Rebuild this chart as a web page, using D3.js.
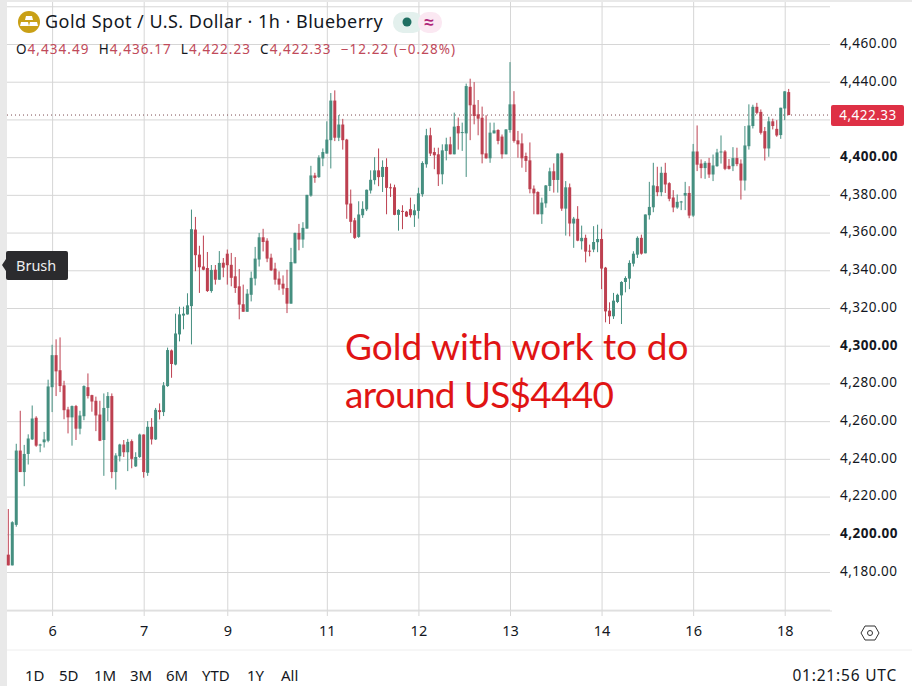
<!DOCTYPE html>
<meta charset="utf-8">
<title>Gold Spot / U.S. Dollar 1h</title>
<style>
body { margin: 0; background: #fff; }
text { font-family: "Noto Sans", sans-serif; fill: #131722; }
</style>
<div id="chart"></div>
<script src="https://d3js.org/d3.v7.min.js"></script>
<script>
// hourly candles
var opens = [
4189.2,4183.5,4205,4244.4,4233,4242.6,4250.3,4261.8,4247.2,4248.8,
4249.6,4278,4295,4287,4279,4266.2,4262,4268,4256,4262.6,
4278,4273.8,4270.8,4263.5,4250,4267,4273.3,4233,4241.4,4247.6,
4243.5,4249.4,4236,4241,4252.9,4232.6,4257,4250.3,4265.8,4264.8,
4278.6,4297.5,4290,4306,4316,4316.6,4321,4361.6,4348.3,4342,
4341.2,4329,4340.3,4335,4344,4348.8,4342.9,4336.8,4331.5,4322,
4318,4327,4335.6,4345.7,4357.5,4355.7,4346.7,4340.9,4335.6,4332.9,
4330.6,4322.3,4343.7,4359.8,4356.3,4362.1,4379.6,4390.3,4389.4,4399.3,
4401.9,4409,4430,4410.3,4417.3,4409.3,4375.4,4366.5,4357.7,4369.2,
4372.3,4382.3,4387.8,4393,4389.5,4394.8,4384,4384,4369.4,4371.5,
4371.1,4372.4,4369.2,4371.5,4380.3,4396.2,4411.6,4402.7,4401.5,4390.9,
4403.3,4406.8,4401.5,4416.5,4412.8,4412.6,4437.3,4427.8,4422.7,4420.9,
4402,4399.4,4412.6,4414.4,4410.9,4401.5,4414.4,4428,4408.9,4407.3,
4400.6,4398.3,4383.3,4381.5,4369.7,4375.5,4384.7,4392.5,4387.9,4402,
4372.7,4384,4364.8,4367.3,4355.4,4357.2,4350.4,4351,4354.9,4356.6,
4341.4,4318.6,4315.6,4323.2,4326.7,4333.8,4335.6,4343.5,4348.3,4357.2,
4349,4369.2,4373.4,4384.6,4381.4,4391.7,4386.2,4378.6,4373.3,4376.1,
4379.6,4381,4369,4403,4396.6,4394.2,4397,4390.8,4395.2,4402.5,
4403,4395.4,4395.2,4399.5,4396.6,4387.6,4405.8,4416.5,4426.7,4424,
4413.8,4404.6,4419,4415,4411.7,4425.8,4434.49];
var highs = [
4213.4,4206.9,4248,4265.5,4247.4,4253,4268.3,4262.6,4248,4254.3,
4282,4300.5,4303.4,4304.4,4281.4,4267.6,4268.3,4268.6,4265.5,4279,
4285.3,4274,4273,4270.8,4274.7,4275.4,4274.7,4243,4248,4250,
4250.6,4250.3,4243.5,4253.4,4253,4260,4261.6,4267,4269.4,4280.7,
4299,4298,4317,4320.7,4320.7,4327.8,4372.2,4368.3,4353,4358.4,
4349.7,4342.8,4342.8,4350.2,4346.5,4351,4349.2,4347,4340.7,4332.4,
4330,4339.3,4352.4,4359.8,4362,4357,4348.8,4344,4339.4,4337.3,
4340.3,4351.9,4360,4364.6,4365.5,4380,4395.4,4391.7,4401,4404.6,
4419,4434,4435.4,4422.3,4420.3,4409.7,4382.8,4367.8,4376.6,4376.6,
4382.8,4393,4400,4404.6,4398.3,4399.4,4386,4385.4,4372.4,4374.5,
4371.5,4378.5,4375,4383.8,4397.8,4415,4415.6,4405,4405,4406.8,
4410.3,4410.8,4423.6,4421,4418.3,4439,4441.6,4439.8,4430.3,4426.8,
4422.2,4418.3,4418.3,4414.8,4412,4414.8,4450.4,4435,4413.9,4412.6,
4402.4,4407.8,4385,4381.9,4378.5,4385.2,4394.4,4396.7,4402,4402.4,
4387.3,4386,4368.3,4374,4363.7,4358.9,4353.6,4363.4,4364.2,4362,
4341.8,4323,4328,4327.6,4334.2,4336.8,4345.3,4350.1,4358,4358.9,
4369.6,4386.9,4397,4394.9,4394.9,4397,4386.7,4382.5,4380.2,4376.8,
4386.9,4384.6,4407,4416.8,4398.8,4397.9,4399.6,4401.4,4404.4,4411.5,
4403.7,4399,4405.3,4405,4398.8,4416.5,4428,4427.8,4428.8,4425.3,
4416,4421.4,4420.4,4419.6,4426.2,4435,4436.17];
var lows = [
4183.5,4183.5,4204,4233,4225.5,4237,4250,4246.4,4243.5,4246,
4248.8,4264.8,4273.3,4275.4,4261,4253.5,4247,4250,4253,4260.5,
4272,4265,4254.7,4249.4,4231,4260,4229.7,4223.7,4238.6,4241,
4233.5,4235,4235.7,4240.5,4230,4231,4247.6,4250,4260.9,4262.7,
4278.2,4283,4289.6,4302.3,4308.7,4316.5,4300.7,4339.5,4328,4340,
4328.5,4328.1,4332.4,4335,4336.3,4332.4,4331.5,4328,4314,4318,
4318,4323.5,4332,4342,4350,4344.3,4339.6,4332.4,4329.4,4327,
4317.3,4322.3,4343.7,4350.6,4351.9,4362.1,4379,4386.4,4389,4395.2,
4401.9,4394,4408.5,4408.5,4404,4367.3,4359.8,4356.6,4357.2,4367.8,
4371.4,4380.7,4385.5,4384.6,4381.5,4369.7,4378.9,4369.2,4361,4361.8,
4368.3,4368,4363,4367.4,4379,4394.4,4400.6,4393.6,4384.7,4385.6,
4398.3,4401.5,4401.5,4404,4403.3,4389.5,4409,4417.4,4411.6,4396.7,
4399.2,4397,4412.6,4406.8,4399.2,4401.5,4413,4407.7,4399.7,4394.4,
4392.1,4380.8,4369.7,4369.7,4364.6,4373.2,4382,4381.2,4381.2,4371.5,
4358.4,4358,4351.9,4355.4,4351,4344.2,4347.4,4349.6,4349.6,4330,
4312.4,4311.5,4314.2,4322.6,4311.5,4328.3,4330,4342,4346.5,4348.3,
4349,4366.9,4370.8,4379.3,4379.3,4381,4376.6,4370.8,4372.6,4371.9,
4371.9,4367.6,4368.3,4392.6,4388.8,4388.5,4389,4387.3,4394.9,4396.6,
4393.1,4393.4,4392.6,4395.2,4377.5,4382.3,4404,4415.2,4422.7,4412,
4398.2,4400.2,4414.7,4410.8,4409.7,4419.6,4422.23];
var closes = [
4183.5,4206.4,4244.4,4233,4242.6,4250.8,4261.4,4247,4247.6,4250.3,
4278.4,4295,4286.4,4278.6,4265.8,4262,4268,4256,4263,4278.6,
4273.3,4270.4,4263,4249.6,4267,4273.3,4233,4241.8,4247.6,4243.5,
4249,4240,4241,4252.9,4233,4257,4250.3,4266,4264.8,4279,
4297.7,4290.3,4306.5,4316.6,4317,4321.4,4361.8,4348,4341.6,4340.3,
4329,4340.2,4335,4343.9,4341.4,4342.7,4336,4330.6,4321.8,4318,
4327.6,4336,4346.2,4357.5,4355,4346.2,4340,4335,4332.4,4330.3,
4322.3,4344.4,4359.8,4356.3,4362.5,4380,4390.3,4389,4399.8,4402.7,
4409.3,4430,4410.3,4417.3,4409,4374.9,4365.7,4357.2,4369.6,4372.6,
4382.7,4388,4393,4389.4,4394.8,4383.7,4383.7,4369.4,4372,4371,
4368.5,4369.2,4371.8,4380.8,4396.9,4411.6,4401.9,4401,4390.9,4403.6,
4406.8,4401.5,4416.2,4412.6,4413.3,4437.7,4427.5,4421.8,4420.4,4401.5,
4399.4,4413,4414.2,4408.6,4401.5,4414.7,4428,4408.6,4406.8,4399.4,
4398,4383,4380.8,4369.7,4375.9,4385,4392.5,4387.9,4401.9,4372.7,
4384,4364.8,4367.4,4355.7,4357.2,4349.9,4350.1,4355,4356.6,4340.9,
4318.2,4315.6,4323.9,4327,4333.8,4335.9,4343.9,4348.8,4357.2,4348.8,
4369.6,4373.6,4385,4381.4,4391.7,4385.5,4377.9,4373.3,4376.3,4376.5,
4381,4369,4403,4396,4394.2,4397,4390.8,4395.6,4402.5,4403,
4393.8,4393.8,4399.5,4396.3,4387.6,4406.2,4416.8,4426.7,4423.5,4412.9,
4404.6,4419,4416.5,4411.5,4426.2,4434.9,4422.33];

var priceTicks = [4160,4180,4200,4220,4240,4260,4280,4300,4320,4340,4360,4380,4400,4420,4440,4460,4480];
var hiddenPrices = [4160,4420,4480];
var dayIndex = [11,34,55,80,103,126,149,172,195];
var dayLabels = ["6","7","9","11","12","13","14","16","18"];
var rangeLabels = ["1D","5D","1M","3M","6M","YTD","1Y","All"];
var rangeX = [25,59,94,130,166,202,247,281];
var lastPrice = 4422.33;
var ohlcNames = ["O","H","L","C"];
var ohlcValues = ["4,434.49","4,436.17","4,422.23","4,422.33"];
var changeText = ["−12.22","(−0.28%)"];

var UP = "#458f80", DOWN = "#bd4050", GRID = "#d6d6d6";

var svg = d3.select("#chart").append("svg")
    .attr("width", 912).attr("height", 686).style("display", "block");

// light strips left and top of the screenshot
svg.append("rect").attr("width", 7).attr("height", 686).attr("fill", "#e9e9e9");
svg.append("rect").attr("width", 912).attr("height", 2).attr("fill", "#e9e9e9");

var x = d3.scaleLinear().domain([0, opens.length - 1]).range([8.3, 788.7]);
var y = d3.scaleLinear().domain([4180, 4460]).range([572, 44]);

// price axis, the ticks double as the horizontal grid
var yAxis = svg.append("g")
    .attr("transform", "translate(830,0)")
    .call(d3.axisRight(y).tickValues(priceTicks).tickSize(-823).tickPadding(10)
      .tickFormat(function(d) { return hiddenPrices.indexOf(d) >= 0 ? "" : d3.format(",.2f")(d); }));
yAxis.select(".domain").remove();
yAxis.selectAll("line").attr("stroke", GRID);
yAxis.selectAll("text")
    .attr("y", -1)
    .style("font-family", '"Noto Sans", sans-serif')
    .style("font-size", "13.5px")
    .style("letter-spacing", "0.5px")
    .style("font-weight", function(d) { return d % 100 == 0 ? "bold" : "normal"; })
    .attr("fill", "#131722");

// time axis, same thing for the verticals
var xAxis = svg.append("g")
    .attr("transform", "translate(0,611)")
    .call(d3.axisBottom(x).tickValues(dayIndex).tickSize(-609).tickSizeOuter(0)
      .tickFormat(function(d, i) { return dayLabels[i]; }));
xAxis.select(".domain").remove();
xAxis.selectAll("line").attr("stroke", GRID).attr("y2", -609);
xAxis.selectAll(".tick").append("line").attr("y1", 0).attr("y2", 5).attr("stroke", GRID);
xAxis.selectAll("text")
    .attr("y", 15).attr("dy", "0.71em")
    .style("font-family", '"Noto Sans", sans-serif')
    .style("font-size", "14.5px")
    .attr("fill", "#131722");

svg.append("line").attr("x1", 7).attr("x2", 832).attr("y1", 611).attr("y2", 611).attr("stroke", "#dcdcdc");
svg.append("line").attr("x1", 7).attr("x2", 912).attr("y1", 650).attr("y2", 650).attr("stroke", "#eeeeee");

// last price dotted line
svg.append("line")
    .attr("x1", 7).attr("x2", 830).attr("y1", y(lastPrice)).attr("y2", y(lastPrice))
    .attr("stroke", "#7a4a50").attr("stroke-dasharray", "1 3");

// candles
var idx = d3.range(opens.length);
var color = function(i) { return closes[i] >= opens[i] ? UP : DOWN; };

svg.selectAll(".wick").data(idx).enter().append("line")
    .attr("class", "wick")
    .attr("x1", function(i) { return x(i); })
    .attr("x2", function(i) { return x(i); })
    .attr("y1", function(i) { return y(highs[i]); })
    .attr("y2", function(i) { return y(lows[i]); })
    .attr("stroke", color);

svg.selectAll(".body").data(idx).enter().append("rect")
    .attr("class", "body")
    .attr("x", function(i) { return x(i) - 1.5; })
    .attr("width", 3)
    .attr("y", function(i) { return y(Math.max(opens[i], closes[i])); })
    .attr("height", function(i) { return Math.max(1, Math.abs(y(opens[i]) - y(closes[i]))); })
    .attr("fill", color);

// price label
svg.append("rect").attr("x", 831).attr("y", 105).attr("width", 73).attr("height", 21).attr("rx", 2).attr("fill", "#de3045");
svg.append("text").attr("x", 868).attr("y", 120).attr("text-anchor", "middle")
    .style("fill", "#fff").style("font-size", "13.5px").style("letter-spacing", "0.5px")
    .text(d3.format(",.2f")(lastPrice));

// header
var icon = svg.append("g").attr("transform", "translate(29,22)");
icon.append("circle").attr("r", 11).attr("fill", "#c9a016");
icon.append("path").attr("d", "M-3,-6H3L4,-2H-4ZM-8,0H-1L0,4H-9ZM1,0H8L9,4H0Z").attr("fill", "#fff");

svg.append("text").attr("x", 45).attr("y", 28).style("font-size", "18px").style("letter-spacing", "0.47px")
    .text("Gold Spot / U.S. Dollar · 1h · Blueberry");

svg.append("rect").attr("x", 393).attr("y", 12).attr("width", 30).attr("height", 21).attr("rx", 10).attr("fill", "#e3f0ed");
svg.append("rect").attr("x", 418).attr("y", 12).attr("width", 24).attr("height", 21).attr("rx", 10).attr("fill", "#fbe8f2");
svg.append("circle").attr("cx", 407).attr("cy", 22).attr("r", 4.5).attr("fill", "#1f6f62");
svg.append("text").attr("x", 429).attr("y", 28).attr("text-anchor", "middle")
    .style("font-size", "17px").style("font-weight", "bold").style("fill", "#b0267a").text("≈");

var ohlcRow = svg.append("text").attr("x", 16).attr("y", 54).style("font-size", "13.5px").style("letter-spacing", "1.05px");
ohlcNames.forEach(function(name, i) {
  ohlcRow.append("tspan").style("fill", "#131722").text(name);
  ohlcRow.append("tspan").style("fill", "#c04a5a").text(ohlcValues[i] + "\u00a0\u00a0");
});
ohlcRow.append("tspan").style("fill", "#c04a5a").text(changeText.join("\u00a0"));

// Brush tooltip
svg.append("path").attr("d", "M6,259L2,265L6,271Z").attr("fill", "#2b2b2e");
svg.append("rect").attr("x", 6).attr("y", 251).attr("width", 62).attr("height", 29).attr("rx", 2).attr("fill", "#2b2b2e");
svg.append("text").attr("x", 16).attr("y", 271).style("fill", "#eee").style("font-size", "14.5px").text("Brush");

// annotation typed on the screenshot
svg.append("text").attr("x", 345).attr("y", 360)
    .style("font-family", "Lato, sans-serif").style("font-size", "37px").style("fill", "#e01414")
    .text("Gold with work to do");
svg.append("text").attr("x", 345).attr("y", 408)
    .style("font-family", "Lato, sans-serif").style("font-size", "37px").style("letter-spacing", "-0.7px").style("fill", "#e01414")
    .text("around US$4440");

// bottom bar
svg.selectAll(".range").data(rangeLabels).enter().append("text")
    .attr("class", "range")
    .attr("x", function(d, i) { return rangeX[i]; })
    .attr("y", 681)
    .style("font-size", "15px")
    .text(function(d) { return d; });
svg.append("text").attr("x", 897).attr("y", 681).attr("text-anchor", "end")
    .style("font-size", "15.5px").style("letter-spacing", "0.8px").text("01:21:56 UTC");

// settings icon
svg.append("path").attr("d", "M865,626H875L879,633L875,640H865L861,633Z").attr("fill", "none").attr("stroke", "#333");
svg.append("circle").attr("cx", 870).attr("cy", 633).attr("r", 2.5).attr("fill", "none").attr("stroke", "#333");
</script>
